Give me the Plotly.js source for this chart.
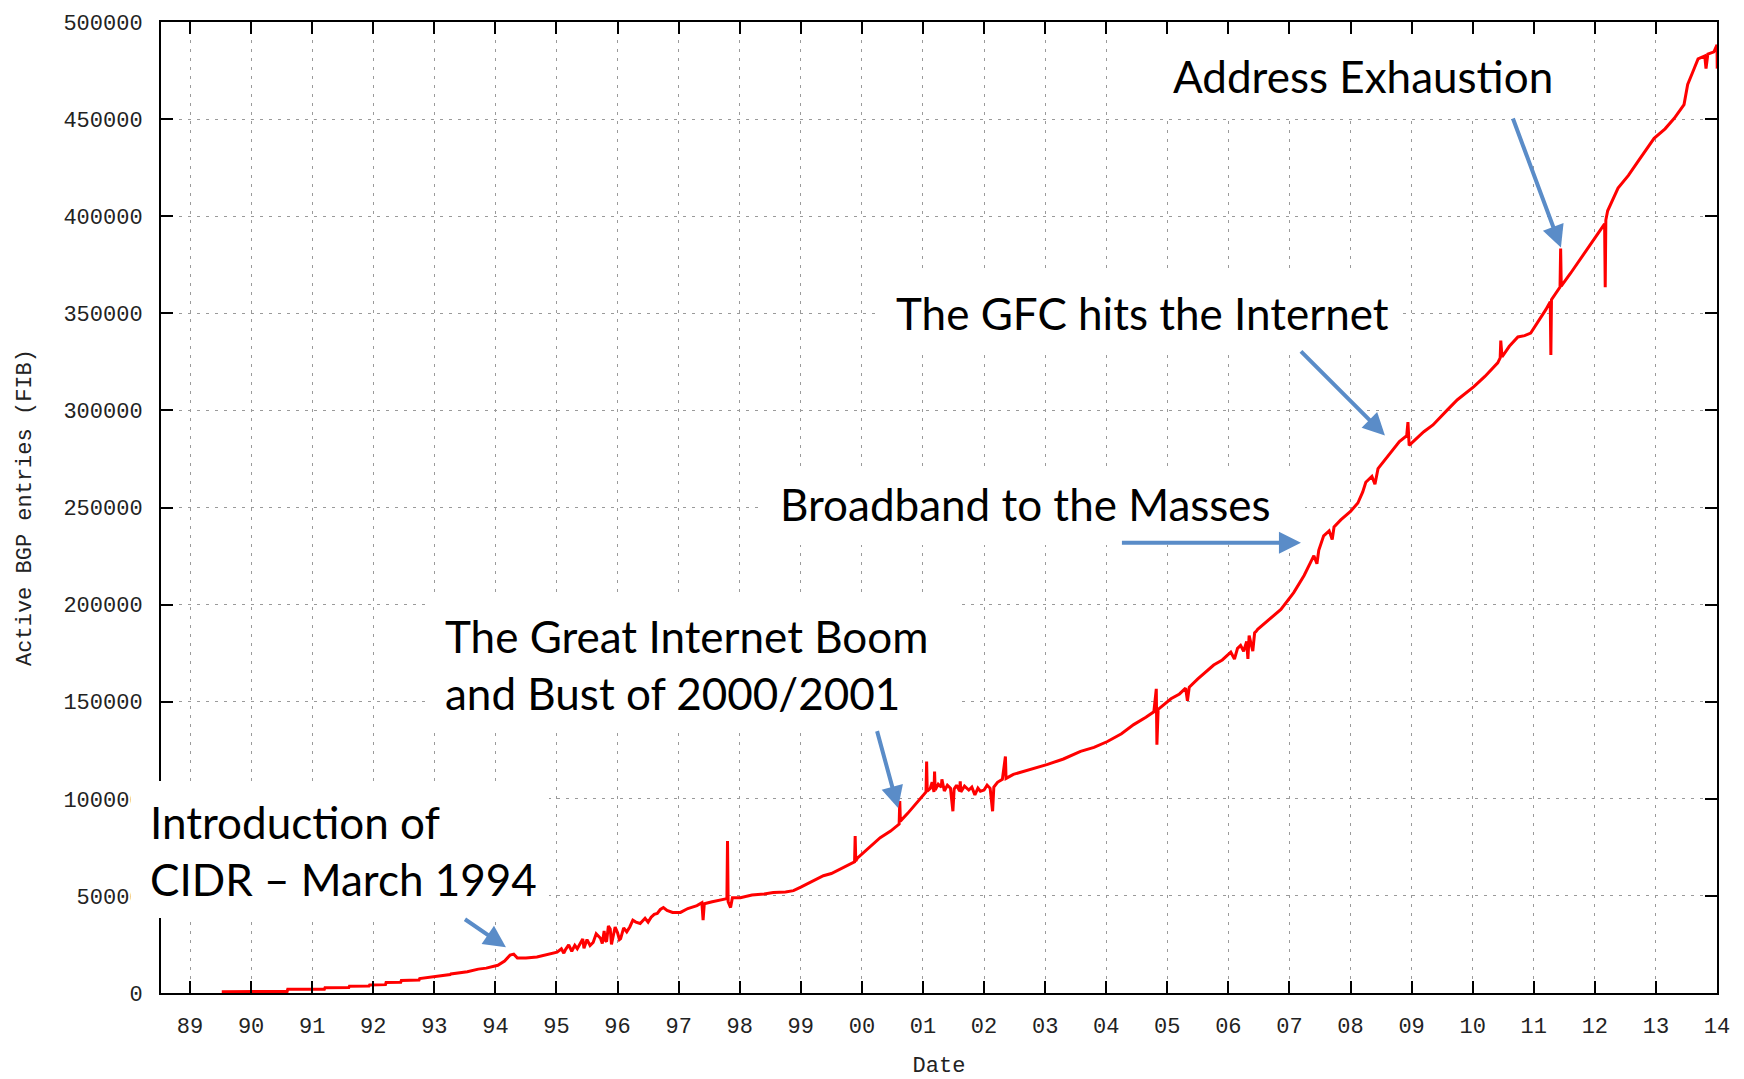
<!DOCTYPE html>
<html>
<head>
<meta charset="utf-8">
<script src="https://cdn.plot.ly/plotly-3.0.1.min.js"></script>
<style>
html,body{margin:0;padding:0;background:#fff;}
#chart{width:1744px;height:1079px;}
</style>
</head>
<body>
<div id="chart"></div>
<script>
// ---- Data ----
const years = [
1989.52,1990.10,1990.59,1990.60,1991.00,1991.20,1991.21,1991.60,1991.61,1991.93,
1991.94,1992.20,1992.21,1992.45,1992.46,1992.75,1992.76,1993.03,1993.26,1993.27,
1993.54,1993.72,1993.85,1994.04,1994.15,1994.24,1994.30,1994.36,1994.50,1994.68,
1994.85,1995.01,1995.08,1995.12,1995.15,1995.20,1995.25,1995.30,1995.34,1995.39,
1995.43,1995.45,1995.50,1995.55,1995.60,1995.65,1995.72,1995.75,1995.78,1995.80,
1995.82,1995.85,1995.88,1995.90,1995.93,1995.96,1996.00,1996.03,1996.05,1996.10,
1996.15,1996.20,1996.25,1996.30,1996.37,1996.45,1996.50,1996.55,1996.60,1996.65,
1996.70,1996.75,1996.81,1996.90,1997.03,1997.15,1997.30,1997.38,1997.40,1997.42,
1997.55,1997.70,1997.79,1997.80,1997.81,1997.85,1997.88,1998.01,1998.20,1998.40,
1998.55,1998.75,1998.88,1999.00,1999.11,1999.25,1999.37,1999.50,1999.65,1999.80,
1999.88,1999.89,1999.90,1999.93,2000.05,2000.19,2000.30,2000.47,2000.55,2000.61,
2000.62,2000.63,2000.75,2000.85,2000.95,2001.01,2001.05,2001.06,2001.07,2001.12,
2001.15,2001.18,2001.19,2001.20,2001.25,2001.30,2001.31,2001.35,2001.40,2001.45,
2001.49,2001.51,2001.55,2001.60,2001.61,2001.62,2001.68,2001.75,2001.80,2001.85,
2001.90,2001.94,2002.00,2002.05,2002.10,2002.14,2002.16,2002.22,2002.30,2002.35,
2002.36,2002.48,2002.70,2003.04,2003.30,2003.58,2003.80,2004.02,2004.25,2004.45,
2004.65,2004.78,2004.82,2004.83,2004.85,2005.06,2005.20,2005.30,2005.33,2005.36,
2005.50,2005.76,2005.90,2006.04,2006.10,2006.15,2006.20,2006.25,2006.30,2006.32,
2006.34,2006.38,2006.40,2006.43,2006.45,2006.48,2006.60,2006.86,2007.07,2007.24,
2007.40,2007.45,2007.48,2007.56,2007.65,2007.70,2007.73,2007.84,2008.00,2008.12,
2008.20,2008.25,2008.35,2008.40,2008.45,2008.58,2008.70,2008.80,2008.92,2008.94,
2008.96,2009.05,2009.20,2009.35,2009.45,2009.59,2009.75,2009.90,2010.02,2010.20,
2010.41,2010.45,2010.46,2010.48,2010.60,2010.74,2010.85,2010.95,2011.10,2011.20,
2011.27,2011.28,2011.29,2011.40,2011.43,2011.44,2011.45,2011.60,2011.82,2012.05,
2012.16,2012.17,2012.18,2012.21,2012.38,2012.55,2012.71,2012.85,2012.97,2013.15,
2013.30,2013.46,2013.52,2013.60,2013.69,2013.80,2013.82,2013.85,2013.95,2014.00,
2014.004
];
const bgpEntries = [
700,700,800,1900,1900,1950,2700,2800,3500,3600,
4100,4300,5400,5500,6500,6700,7400,8400,9500,9800,
10900,12300,12800,14300,16500,19500,20000,18000,18000,18500,
19800,21000,22800,20500,22500,24800,21500,24500,22800,25600,
27800,23000,27500,24500,26000,30500,28200,25500,32000,27000,
26500,34500,33000,25000,29700,34000,31000,27500,28000,33500,
31500,34000,37500,36500,35800,38500,36500,39000,40500,41000,
43000,44000,42500,41500,41500,43500,45000,46500,37500,46000,
47000,48000,48600,78300,47000,44000,49000,49100,50500,51000,
51700,52000,52700,54500,56300,58500,60400,61500,64000,66500,
67500,80800,68000,69600,73000,76800,80000,83400,85500,87000,
98800,88500,92500,96200,99500,102300,103500,119200,104000,105400,
108500,103500,114000,104500,107500,106000,110000,104000,107000,105500,
93600,105000,107000,104000,109000,103500,106500,104500,106000,102000,
105500,103900,104500,107000,105400,93600,106000,108500,110000,121800,
110500,112600,114500,117700,120500,124400,126500,129500,133500,138200,
142000,144800,156600,127900,146000,151500,154000,157000,150500,157500,
161700,168900,171500,175500,172000,177500,179000,176000,181000,172000,
184000,179000,176000,185500,186000,187300,190500,197500,206200,215000,
225200,221000,228000,235400,238000,233500,240000,243600,248000,252300,
258000,263000,266000,262000,270000,275000,280000,284000,287000,294000,
282000,284500,289000,292500,296000,300400,305500,309000,312200,317500,
324500,327000,336000,327500,333000,337800,338500,339800,347000,352000,
356000,328500,357000,362000,363500,383300,364000,370500,380800,391000,
396000,363400,398000,402800,414500,421000,428400,434500,440100,445000,
450400,457500,467800,474000,481000,482500,476000,483500,484600,488200,
476000
];
const tickYears = [1989,1990,1991,1992,1993,1994,1995,1996,1997,1998,1999,2000,2001,
                   2002,2003,2004,2005,2006,2007,2008,2009,2010,2011,2012,2013,2014];
const tickYearLabels = ['89','90','91','92','93','94','95','96','97','98','99','00','01',
                        '02','03','04','05','06','07','08','09','10','11','12','13','14'];
const tickEntryVals = [0,50000,100000,150000,200000,250000,300000,350000,400000,450000,500000];
const tickEntryLabels = ['0','50000','100000','150000','200000','250000','300000','350000','400000','450000','500000'];
const eventLabels = [
  'Introduction of<br>CIDR – March 1994',
  'The Great Internet Boom<br>and Bust of 2000/2001',
  'Broadband to the Masses',
  'The GFC hits the Internet',
  'Address Exhaustion'
];

// ---- Styling / positioning (paper coords) ----
const monoFont = {family: 'Liberation Mono, DejaVu Sans Mono, monospace', size: 22, color: '#222'};
const textFont = {family: 'Lato, Open Sans, sans-serif', size: 44, color: '#000'};
const arrowColor = '#5A8CC8';

const boxes = [
  {x: -0.0193, y: 0.2180, w: 418, h: 137},
  {x: 0.1697, y: 0.4094, w: 536, h: 137},
  {x: 0.3850, y: 0.5425, w: 545, h: 79},
  {x: 0.4595, y: 0.7451, w: 527, h: 80},
  {x: 0.6375, y: 0.9846, w: 440, h: 82}
];
const textPos = [
  {x: -0.0071, y: 0.1464},
  {x: 0.1825, y: 0.3378},
  {x: 0.3978, y: 0.5038},
  {x: 0.4724, y: 0.7004},
  {x: 0.6504, y: 0.9443}
];
const arrows = [
  {x: 0.2217, y: 0.0471, ax: -41, ay: -28},
  {x: 0.4737, y: 0.1904, ax: -21, ay: -77},
  {x: 0.7326, y: 0.4637, ax: -179, ay: 0},
  {x: 0.7866, y: 0.5742, ax: -84, ay: -84},
  {x: 0.8997, y: 0.7677, ax: -48, ay: -129}
];

const annotations = [];
boxes.forEach(b => annotations.push({
  xref: 'paper', yref: 'paper', x: b.x, y: b.y, xanchor: 'left', yanchor: 'top',
  text: ' ', showarrow: false, width: b.w, height: b.h, bgcolor: '#ffffff',
  borderwidth: 0, borderpad: 0, font: {size: 10}
}));
textPos.forEach((p, i) => annotations.push({
  xref: 'paper', yref: 'paper', x: p.x, y: p.y, xanchor: 'left', yanchor: 'middle',
  text: eventLabels[i], showarrow: false, align: 'left', font: textFont,
  borderwidth: 0, borderpad: 0
}));
arrows.forEach(a => annotations.push({
  xref: 'paper', yref: 'paper', x: a.x, y: a.y, ax: a.ax, ay: a.ay,
  text: ' ', showarrow: true, arrowhead: 2, arrowsize: 1.1, arrowwidth: 4,
  arrowcolor: arrowColor, standoff: 0, startstandoff: 0, font: {size: 1},
  borderwidth: 0, borderpad: 0
}));

const trace = {
  x: years, y: bgpEntries, type: 'scatter', mode: 'lines',
  line: {color: '#ff0000', width: 3}, hoverinfo: 'x+y', showlegend: false
};

const axisCommon = {
  ticks: 'inside', ticklen: 12, tickwidth: 2, tickcolor: '#000',
  showline: true, linewidth: 2, linecolor: '#000', mirror: 'ticks',
  showgrid: true, gridcolor: '#9a9a9a', gridwidth: 1, griddash: '3px,6px',
  zeroline: false, tickfont: monoFont
};

const layout = {
  width: 1744, height: 1079,
  margin: {l: 161, r: 27, t: 16, b: 86, pad: 0},
  paper_bgcolor: '#ffffff', plot_bgcolor: '#ffffff',
  showlegend: false,
  xaxis: Object.assign({}, axisCommon, {
    range: [1988.525, 2014.0], tickmode: 'array', tickvals: tickYears, ticktext: tickYearLabels,
    ticklabelstandoff: 12,
    title: {text: 'Date', font: monoFont, standoff: 21}
  }),
  yaxis: Object.assign({}, axisCommon, {
    range: [0, 500000], tickmode: 'array', tickvals: tickEntryVals, ticktext: tickEntryLabels,
    ticklabelstandoff: 12, automargin: true,
    title: {text: 'Active BGP entries (FIB)', font: monoFont, standoff: 26}
  }),
  annotations: annotations
};

Plotly.newPlot('chart', [trace], layout, {displayModeBar: false, staticPlot: true});
</script>
</body>
</html>
